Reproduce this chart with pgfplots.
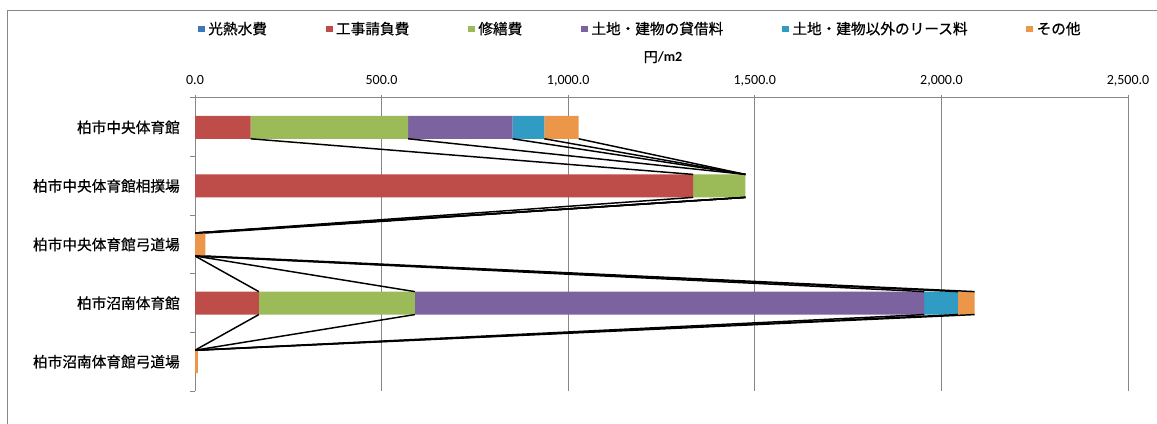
\documentclass[border=0pt]{standalone}
\usepackage{pgfplots}
\pgfplotsset{compat=1.18}
\usepackage{fontspec}
\setmainfont{Carlito}
\newfontfamily\jp{Noto Sans CJK JP}[FakeBold=0.6]
\newfontfamily\jpb{Noto Sans CJK JP}[FakeBold=1.5]

\definecolor{cBlue}{RGB}{60,120,185}
\definecolor{cRed}{RGB}{190,76,73}
\definecolor{cGreen}{RGB}{155,187,89}
\definecolor{cPurple}{RGB}{125,98,160}
\definecolor{cAqua}{RGB}{48,155,195}
\definecolor{cOrange}{RGB}{235,150,72}
\definecolor{cGrid}{RGB}{135,135,135}

\begin{document}
\begin{tikzpicture}
% 1 px of the reference = 0.75pt
\useasboundingbox (0,0) rectangle (867.75pt,-318pt);
\fill[white] (0,0) rectangle (867.75pt,-318pt);
\draw[cGrid, line width=0.75pt] (5.25pt,-318pt) -- (5.25pt,-8.25pt) -- (867.75pt,-8.25pt);

\begin{axis}[
  at={(146.25pt,-73.5pt)}, anchor=north west,
  width=699.75pt, height=219.75pt, scale only axis,
  xmin=0, xmax=2500, ymin=-0.5, ymax=4.5,
  xbar stacked, bar width=17.25pt,
  axis x line*=top, axis y line*=left,
  axis line style={cGrid, line width=0.75pt, -},
  xtick={0,500,1000,1500,2000,2500},
  xticklabels={0.0,500.0,{1,000.0},{1,500.0},{2,000.0},{2,500.0}},
  xmajorgrids, major grid style={cGrid, line width=0.6pt},
  xtick style={cGrid, line width=0.75pt},
  tick align=center, major tick length=4.5pt,
  xticklabel style={font=\fontsize{10.5}{12}\selectfont, inner sep=0pt, anchor=base, yshift=8pt},
  ytick={0,1,2,3,4},
  yticklabels={柏市沼南体育館弓道場,柏市沼南体育館,柏市中央体育館弓道場,柏市中央体育館相撲場,柏市中央体育館},
  ytick style={draw=none},
  yticklabel style={font=\jp\fontsize{11}{13}\selectfont, inner sep=0pt, anchor=east, xshift=-9pt},
  extra y ticks={-0.5,0.5,1.5,2.5,3.5,4.5},
  extra y tick labels={},
  extra y tick style={ytick style={draw=cGrid, line width=0.75pt}, tick align=outside, major tick length=3.75pt},
  legend columns=6,
  legend style={at={(0.478,1.2355)}, anchor=center, draw=none, fill=none,
    font=\jp\fontsize{11}{13}\selectfont, inner sep=0pt,
    nodes={inner xsep=2.5pt, inner ysep=0pt},
    /tikz/every even column/.append style={column sep=41.5pt}},
  legend image code/.code={\fill[#1] (0pt,-2.6pt) rectangle (5.25pt,2.6pt);},
]
\addplot[fill=cBlue, draw=none] coordinates {(0,4) (0,3) (0,2) (0,1) (0,0)};
\addplot[fill=cRed, draw=none] coordinates {(149,4) (1335,3) (0,2) (171,1) (0,0)};
\addplot[fill=cGreen, draw=none] coordinates {(422,4) (140,3) (0,2) (418,1) (0,0)};
\addplot[fill=cPurple, draw=none] coordinates {(280,4) (0,3) (0,2) (1365,1) (0,0)};
\addplot[fill=cAqua, draw=none] coordinates {(85,4) (0,3) (0,2) (90,1) (0,0)};
\addplot[fill=cOrange, draw=none] coordinates {(92,4) (0,3) (28,2) (45,1) (8,0)};
\legend{光熱水費,工事請負費,修繕費,土地・建物の貸借料,土地・建物以外のリース料,その他}
\end{axis}

% series lines between the stacked bars
\begin{axis}[
  at={(146.25pt,-73.5pt)}, anchor=north west,
  width=699.75pt, height=219.75pt, scale only axis,
  xmin=0, xmax=2500, ymin=-0.5, ymax=4.5,
  hide axis, unbounded coords=jump,
]
\addplot[black, line width=1.1pt] coordinates {
  (149,3.804) (1335,3.196) (nan,nan)
  (1335,2.804) (0,2.196) (nan,nan)
  (0,1.804) (171,1.196) (nan,nan)
  (171,0.804) (0,0.196)
};
\addplot[black, line width=1.1pt] coordinates {
  (571,3.804) (1475,3.196) (nan,nan)
  (1475,2.804) (0,2.196) (nan,nan)
  (0,1.804) (589,1.196) (nan,nan)
  (589,0.804) (0,0.196)
};
\addplot[black, line width=1.1pt] coordinates {
  (851,3.804) (1475,3.196) (nan,nan)
  (1475,2.804) (0,2.196) (nan,nan)
  (0,1.804) (1954,1.196) (nan,nan)
  (1954,0.804) (0,0.196)
};
\addplot[black, line width=1.1pt] coordinates {
  (936,3.804) (1475,3.196) (nan,nan)
  (1475,2.804) (0,2.196) (nan,nan)
  (0,1.804) (2044,1.196) (nan,nan)
  (2044,0.804) (0,0.196)
};
\addplot[black, line width=1.1pt] coordinates {
  (1028,3.804) (1475,3.196) (nan,nan)
  (1475,2.804) (28,2.196) (nan,nan)
  (28,1.804) (2089,1.196) (nan,nan)
  (2089,0.804) (8,0.196)
};
\end{axis}

\node[anchor=base, inner sep=0pt] at (497.25pt,-46.5pt)
  {{\jpb\fontsize{10.5}{12}\selectfont 円}{\fontsize{10.5}{12}\selectfont\bfseries /m2}};
\end{tikzpicture}
\end{document}
